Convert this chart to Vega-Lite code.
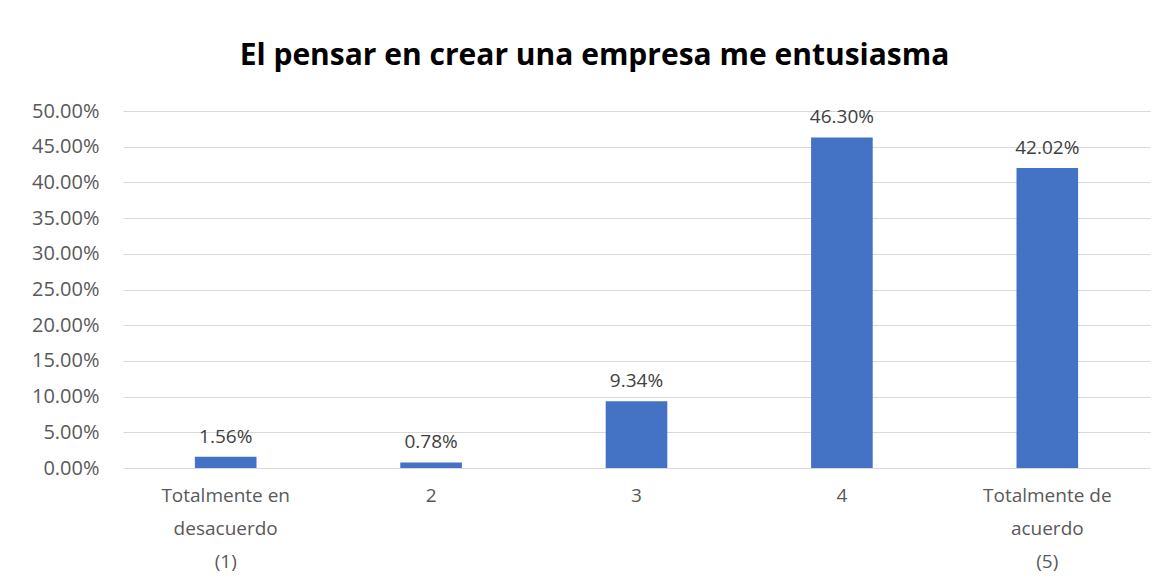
{
  "$schema": "https://vega.github.io/schema/vega-lite/v6.json",
  "width": 1027,
  "height": 357,
  "autosize": {"type": "none"},
  "padding": {"left": 123, "top": 111, "right": 18, "bottom": 116},
  "background": "white",
  "title": {
    "text": "El pensar en crear una empresa me entusiasma",
    "font": "Open Sans",
    "fontSize": 30,
    "fontWeight": "bold",
    "color": "#000000",
    "anchor": "middle",
    "dx": -42,
    "offset": 30
  },
  "data": {
    "values": [
      {"cat": "Totalmente en|desacuerdo|(1)", "pct": 0.0156},
      {"cat": "2", "pct": 0.0078},
      {"cat": "3", "pct": 0.0934},
      {"cat": "4", "pct": 0.463},
      {"cat": "Totalmente de|acuerdo|(5)", "pct": 0.4202}
    ]
  },
  "encoding": {
    "x": {
      "field": "cat",
      "type": "nominal",
      "sort": null,
      "scale": {"paddingInner": 0.7, "paddingOuter": 0.35},
      "axis": {
        "title": null,
        "labelAngle": 0,
        "labelExpr": "split(datum.label, '|')",
        "labelFont": "Open Sans",
        "labelFontSize": 19,
        "labelColor": "#595959",
        "labelLineHeight": 33,
        "labelPadding": 18,
        "ticks": false,
        "domainColor": "#d9d9d9",
        "domainWidth": 1
      }
    },
    "y": {
      "field": "pct",
      "type": "quantitative",
      "scale": {"domain": [0, 0.5]},
      "axis": {
        "title": null,
        "format": ".2%",
        "values": [0, 0.05, 0.1, 0.15, 0.2, 0.25, 0.3, 0.35, 0.4, 0.45, 0.5],
        "labelFont": "Open Sans",
        "labelFontSize": 20,
        "labelColor": "#595959",
        "labelPadding": 24,
        "ticks": false,
        "domain": false,
        "gridColor": "#d9d9d9",
        "gridWidth": 1
      }
    }
  },
  "layer": [
    {"mark": {"type": "bar", "color": "#4472C4"}},
    {
      "mark": {"type": "text", "dy": -20, "font": "Open Sans", "fontSize": 19, "color": "#404040"},
      "encoding": {"text": {"field": "pct", "type": "quantitative", "format": ".2%"}}
    }
  ],
  "config": {"view": {"stroke": null}}
}
